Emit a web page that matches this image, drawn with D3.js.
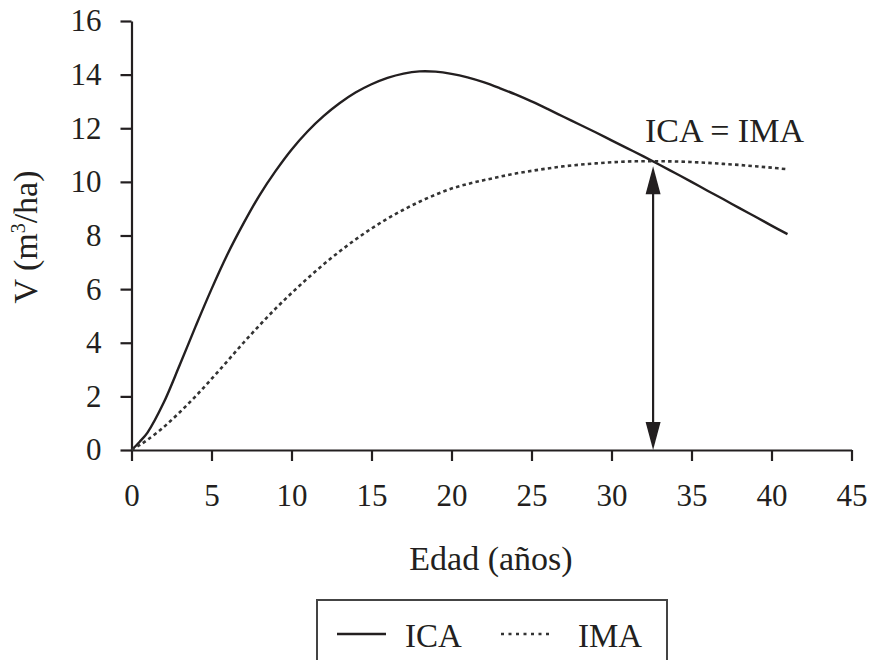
<!DOCTYPE html>
<html>
<head>
<meta charset="utf-8">
<script src="https://cdn.jsdelivr.net/npm/d3@7"></script>
<style>
  body{margin:0;background:#fff;}
</style>
</head>
<body>
<script>
// edad (años)
var edad=[0,0.5,1,2,3,4,5,6,7,8,9,10,11,12,13,14,15,16,17,18,19,20,21,22,23,24,25,26,27,28,29,30,31,32,33,34,35,36,37,38,39,40,41];
// incremento corriente anual
var ica=[0,0.3,0.65,1.75,3.15,4.6,6.0,7.3,8.45,9.5,10.4,11.2,11.88,12.45,12.93,13.33,13.64,13.88,14.04,14.12,14.11,14.03,13.9,13.72,13.5,13.26,13.0,12.72,12.43,12.14,11.85,11.55,11.25,10.95,10.64,10.32,10.0,9.67,9.35,9.02,8.7,8.37,8.05];
// incremento medio anual
var ima=[0,0.18,0.38,0.85,1.4,2.0,2.65,3.32,4.0,4.65,5.27,5.85,6.4,6.92,7.4,7.85,8.26,8.63,8.96,9.26,9.52,9.75,9.92,10.06,10.19,10.31,10.41,10.5,10.58,10.64,10.69,10.73,10.76,10.77,10.77,10.76,10.74,10.71,10.67,10.63,10.58,10.53,10.47];
var xTicks=[0,5,10,15,20,25,30,35,40,45];
var yTicks=[0,2,4,6,8,10,12,14,16];
var cruce={edad:32.6,v:10.77};
var leyenda=['ICA','IMA'];

var width=870, height=660;
var ink='#231f20';
var serif='"Liberation Serif","Times New Roman",serif';

var svg=d3.select('body').append('svg')
  .attr('width',width)
  .attr('height',height)
  .style('font-family',serif);

var xScale=d3.scaleLinear().domain([0,45]).range([131.5,851.5]);
var yScale=d3.scaleLinear().domain([0,16]).range([450,21]);

var xAxis=d3.axisBottom(xScale).tickValues(xTicks).tickSize(11).tickPadding(34).tickSizeOuter(0);
var yAxis=d3.axisLeft(yScale).tickValues(yTicks).tickSize(11).tickPadding(19).tickSizeOuter(0);

var gx=svg.append('g').attr('transform','translate(0,450)').call(xAxis);
var gy=svg.append('g').attr('transform','translate(131.5,0)').call(yAxis);

[gx,gy].forEach(function(g){
  g.attr('font-family',serif).attr('font-size',31);
  g.select('.domain').attr('stroke',ink).attr('stroke-width',2.2);
  g.selectAll('.tick line').attr('stroke',ink).attr('stroke-width',2.2);
  g.selectAll('.tick text')
    .style('font-family',serif)
    .style('font-size','31px')
    .attr('fill',ink);
});
gx.selectAll('.tick text').attr('dy','0.35em');

var pts=function(vals){ return edad.map(function(e,i){ return [e,vals[i]]; }); };
var line=d3.line()
  .x(function(d){ return xScale(d[0]); })
  .y(function(d){ return yScale(d[1]); })
  .curve(d3.curveCatmullRom.alpha(0.5));

svg.append('path')
  .attr('d',line(pts(ica)))
  .attr('fill','none')
  .attr('stroke',ink)
  .attr('stroke-width',2.4);

svg.append('path')
  .attr('d',line(pts(ima)))
  .attr('fill','none')
  .attr('stroke','#333')
  .attr('stroke-width',2.6)
  .attr('stroke-dasharray','3.5,3.2');

// doble flecha en el punto ICA = IMA
var ax=xScale(cruce.edad);
var yTop=yScale(cruce.v)+5, yBot=yScale(0);
svg.append('line')
  .attr('x1',ax).attr('x2',ax)
  .attr('y1',yTop+20).attr('y2',yBot-20)
  .attr('stroke',ink).attr('stroke-width',2.2);
svg.append('path')
  .attr('d','M'+ax+','+yTop+' L'+(ax-7.5)+','+(yTop+28)+' L'+(ax+7.5)+','+(yTop+28)+'Z')
  .attr('fill',ink);
svg.append('path')
  .attr('d','M'+ax+','+yBot+' L'+(ax-7.5)+','+(yBot-28)+' L'+(ax+7.5)+','+(yBot-28)+'Z')
  .attr('fill',ink);

svg.append('text')
  .attr('x',645).attr('y',142)
  .attr('fill',ink)
  .style('font-family',serif)
  .style('font-size','34px')
  .text('ICA = IMA');

// titulos de ejes
svg.append('text')
  .attr('x',491).attr('y',570)
  .attr('text-anchor','middle')
  .attr('fill',ink)
  .style('font-family',serif)
  .style('font-size','34px')
  .text('Edad (años)');

var yt=svg.append('text')
  .attr('transform','translate(37,237) rotate(-90)')
  .attr('text-anchor','middle')
  .attr('fill',ink)
  .style('font-family',serif)
  .style('font-size','34px');
yt.append('tspan').text('V (m');
yt.append('tspan').attr('dy','-12').style('font-size','20px').text('3');
yt.append('tspan').attr('dy','12').text('/ha)');

// leyenda
var lg=svg.append('g');
lg.append('rect')
  .attr('x',317).attr('y',600)
  .attr('width',350).attr('height',80)
  .attr('fill','none')
  .attr('stroke','#444')
  .attr('stroke-width',2);
lg.append('line')
  .attr('x1',337).attr('x2',386).attr('y1',634).attr('y2',634)
  .attr('stroke',ink).attr('stroke-width',2.4);
lg.append('text').attr('x',405).attr('y',647)
  .attr('fill',ink).style('font-family',serif).style('font-size','33px')
  .text(leyenda[0]);
lg.append('line')
  .attr('x1',501).attr('x2',550).attr('y1',634).attr('y2',634)
  .attr('stroke','#333').attr('stroke-width',2.4)
  .attr('stroke-dasharray','3,4.5');
lg.append('text').attr('x',578).attr('y',647)
  .attr('fill',ink).style('font-family',serif).style('font-size','33px')
  .text(leyenda[1]);
</script>
</body>
</html>
